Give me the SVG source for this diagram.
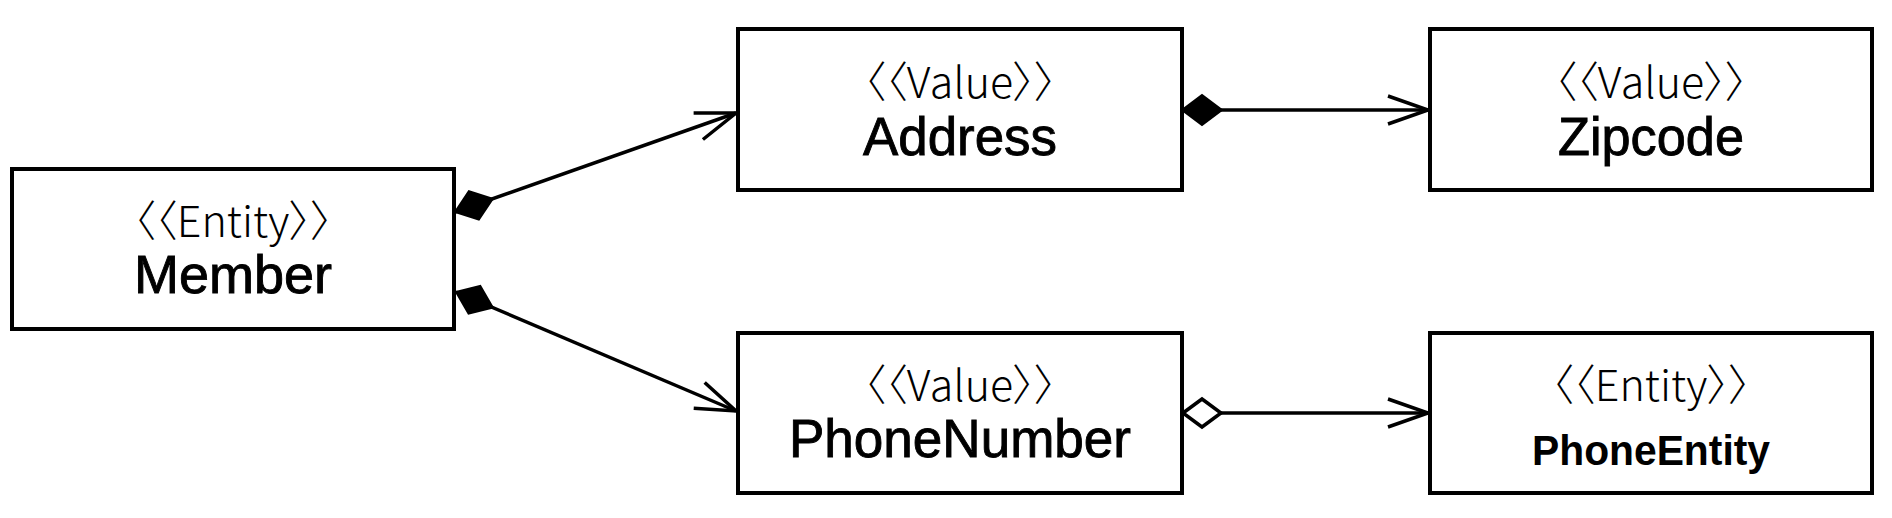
<svg xmlns="http://www.w3.org/2000/svg" width="1892" height="518" viewBox="0 0 1892 518">
<defs>
<style>
.box{fill:#fff;stroke:#000;stroke-width:4}
.st{font-family:"Noto Sans CJK KR","Noto Sans",sans-serif;font-weight:300;font-size:43px;fill:#000;text-anchor:middle;font-feature-settings:"palt"}
.nm{font-family:"Liberation Sans",Arial,sans-serif;font-size:54px;fill:#000;stroke:#000;stroke-width:0.9;text-anchor:middle}
.nmb{font-family:"Liberation Sans",Arial,sans-serif;font-size:42px;font-weight:bold;fill:#000;text-anchor:middle}
.ln{fill:none;stroke:#000;stroke-width:3.5}
</style>
<marker id="dFill" markerUnits="userSpaceOnUse" orient="auto" refX="0" refY="0" markerWidth="50" markerHeight="40" overflow="visible">
<path d="M0,0 L20,-15 L40,0 L20,15 Z" fill="#000" stroke="#000" stroke-width="2"/>
</marker>
<marker id="dOpen" markerUnits="userSpaceOnUse" orient="auto" refX="0" refY="0" markerWidth="50" markerHeight="40" overflow="visible">
<path d="M1,0 L20,-14 L39,0 L20,14 Z" fill="#fff" stroke="#000" stroke-width="3.5"/>
</marker>
<marker id="arr" markerUnits="userSpaceOnUse" orient="auto" refX="0" refY="0" markerWidth="50" markerHeight="40" overflow="visible">
<path d="M-40,-14 L0,0 L-40,14" fill="none" stroke="#000" stroke-width="3.5"/>
</marker>
</defs>
<rect width="1892" height="518" fill="#fff"/>
<g id="connectors">
<path class="ln" d="M455,212 L736,113" marker-start="url(#dFill)" marker-end="url(#arr)"/>
<path class="ln" d="M456,292 L736,411" marker-start="url(#dFill)" marker-end="url(#arr)"/>
<path class="ln" d="M1182,110 L1428,110" marker-start="url(#dFill)" marker-end="url(#arr)"/>
<path class="ln" d="M1182,413 L1428,413" marker-start="url(#dOpen)" marker-end="url(#arr)"/>
</g>
<g id="member">
<rect class="box" x="12" y="169" width="442" height="160"/>
<text class="st" x="233" y="237">〈〈Entity〉〉</text>
<text class="nm" x="233" y="293" textLength="198" lengthAdjust="spacingAndGlyphs">Member</text>
</g>
<g id="address">
<rect class="box" x="738" y="29" width="444" height="161"/>
<text class="st" x="960" y="98">〈〈Value〉〉</text>
<text class="nm" x="960" y="155" textLength="194" lengthAdjust="spacingAndGlyphs">Address</text>
</g>
<g id="zipcode">
<rect class="box" x="1430" y="29" width="442" height="161"/>
<text class="st" x="1651" y="98">〈〈Value〉〉</text>
<text class="nm" x="1651" y="155" textLength="186" lengthAdjust="spacingAndGlyphs">Zipcode</text>
</g>
<g id="phonenumber">
<rect class="box" x="738" y="333" width="444" height="160"/>
<text class="st" x="960" y="401">〈〈Value〉〉</text>
<text class="nm" x="960" y="457" textLength="342" lengthAdjust="spacingAndGlyphs">PhoneNumber</text>
</g>
<g id="phoneentity">
<rect class="box" x="1430" y="333" width="442" height="160"/>
<text class="st" x="1651" y="401">〈〈Entity〉〉</text>
<text class="nmb" x="1651" y="465" textLength="238" lengthAdjust="spacingAndGlyphs">PhoneEntity</text>
</g>
</svg>
